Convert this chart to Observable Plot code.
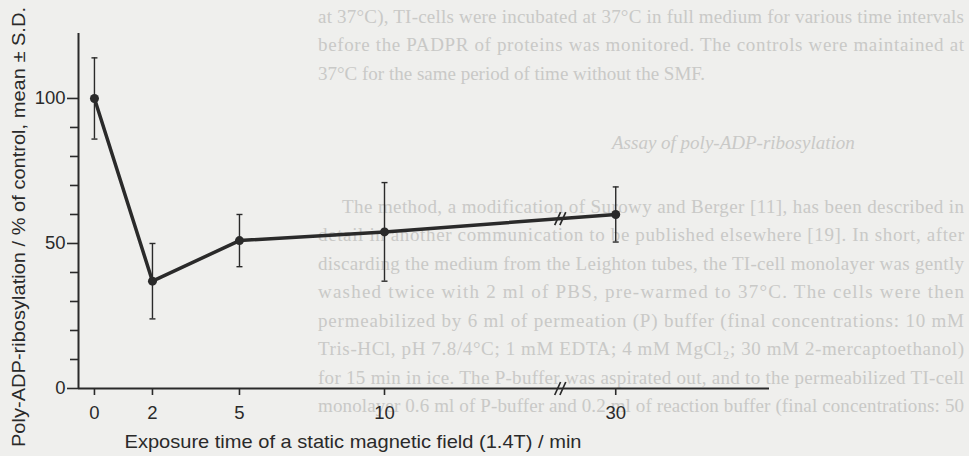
<!DOCTYPE html>
<html><head><meta charset="utf-8">
<script src="https://cdn.jsdelivr.net/npm/d3@7"></script>
<script src="https://cdn.jsdelivr.net/npm/@observablehq/plot@0.6"></script>
<style>
html,body{margin:0;padding:0;background:#efefed;overflow:hidden}
#wrap{position:relative;width:969px;height:456px;overflow:hidden}
#bg,#chart{position:absolute;left:0;top:0}
</style></head><body>
<div id="wrap"><svg id="bg" width="969" height="456"></svg><div id="chart"></div></div>
<script>
// ---- chart data ----
const times = [0, 2, 5, 10, 30];
const means = [100, 37, 51, 54, 60];
const sds = [14, 13, 9, 17, 9.5];
const xTicks = [0, 2, 5, 10, 30];
const yTicks = [0, 50, 100];
const yMinorTicks = [10, 20, 30, 40, 60, 70, 80, 90];
const breakAt = 25.2;
const xTitle = "Exposure time of a static magnetic field (1.4T) / min";
const yTitle = "Poly-ADP-ribosylation / % of control, mean ± S.D.";

// ---- show-through page text (scan background) ----
const pageLines = [
  "at 37°C), TI-cells were incubated at 37°C in full medium for various time intervals",
  "before the PADPR of proteins was monitored. The controls were maintained at",
  "37°C for the same period of time without the SMF.",
  "Assay of poly-ADP-ribosylation",
  "The method, a modification of Surowy and Berger [11], has been described in",
  "detail in another communication to be published elsewhere [19]. In short, after",
  "discarding the medium from the Leighton tubes, the TI-cell monolayer was gently",
  "washed twice with 2 ml of PBS, pre-warmed to 37°C. The cells were then",
  "permeabilized by 6 ml of permeation (P) buffer (final concentrations: 10 mM",
  "Tris-HCl, pH 7.8/4°C; 1 mM EDTA; 4 mM MgCl₂; 30 mM 2-mercaptoethanol)",
  "for 15 min in ice. The P-buffer was aspirated out, and to the permeabilized TI-cell",
  "monolayer 0.6 ml of P-buffer and 0.2 ml of reaction buffer (final concentrations: 50"
];
const pageLayout = {
  baselines: [23, 51, 80, 149, 213, 241, 270, 298, 327, 355, 384, 412],
  starts:    [318, 318, 318, 612, 342, 318, 318, 318, 318, 318, 318, 318],
  justified: [true, true, false, false, true, true, true, true, true, true, true, true],
  italic:    [false, false, false, true, false, false, false, false, false, false, false, false],
  right: 964
};

const bg = d3.select("#bg");
pageLines.forEach((s, i) => {
  const t = bg.append("text")
    .attr("x", pageLayout.starts[i]).attr("y", pageLayout.baselines[i])
    .attr("font-family", "Liberation Serif, DejaVu Serif, serif")
    .attr("font-size", 19)
    .attr("font-style", pageLayout.italic[i] ? "italic" : "normal")
    .attr("fill", "#c9c9c7")
    .text(s);
  const avail = pageLayout.right - pageLayout.starts[i];
  const nat = t.node().getComputedTextLength();
  if (nat > avail) t.attr("font-size", 19 * avail / nat);
  if (pageLayout.justified[i]) t.attr("textLength", avail).attr("lengthAdjust", "spacing");
});

// ---- plot ----
const ink = "#2a2a2a";
const data = times.map((t, i) => ({t, m: means[i], s: sds[i]}));
const xDomain = [-0.55, 10, 43.3];
const xRange = [78, 384, 769];
const yTop = 122.4;
const capSymbol = {draw(ctx, size) { const r = Math.sqrt(size / Math.PI); ctx.moveTo(-r, 0); ctx.lineTo(r, 0); }};
const breakSymbol = {draw(ctx, size) {
  const r = Math.sqrt(size / Math.PI);
  for (const o of [-0.4 * r, 0.4 * r]) { ctx.moveTo(o - 0.45 * r, r); ctx.lineTo(o + 0.45 * r, -r); }
}};
const i10 = times.indexOf(10), i30 = times.indexOf(30);
const breakY = means[i10] + (means[i30] - means[i10]) * (breakAt - times[i10]) / (times[i30] - times[i10]);
const breaks = [{x: breakAt, y: 0}, {x: breakAt, y: breakY}];

const chart = Plot.plot({
  width: 969, height: 456,
  marginLeft: 78, marginRight: 200, marginTop: 33, marginBottom: 68,
  style: {background: "transparent", fontFamily: "Liberation Sans, Arial, sans-serif", color: ink},
  x: {type: "linear", domain: xDomain, range: xRange},
  y: {domain: [0, yTop]},
  marks: [
    Plot.ruleY([0], {stroke: ink, strokeWidth: 2}),
    Plot.ruleX([xDomain[0]], {stroke: ink, strokeWidth: 2}),
    Plot.axisY({ticks: yTicks, tickSize: 11, tickPadding: 2, fontSize: 18.5, label: null, color: ink, strokeWidth: 1.6}),
    Plot.axisY({ticks: yMinorTicks, tickSize: 8, tickFormat: () => "", label: null, color: ink, strokeWidth: 1.6}),
    Plot.axisX({ticks: xTicks, tickSize: 7, tickPadding: 10, fontSize: 18.5, label: null, color: ink, strokeWidth: 1.6}),
    Plot.ruleX(data, {x: "t", y1: d => d.m - d.s, y2: d => d.m + d.s, stroke: ink, strokeWidth: 1.4}),
    Plot.dot(data, {x: "t", y: d => d.m + d.s, symbol: capSymbol, r: 3, stroke: ink, fill: "none", strokeWidth: 1.4}),
    Plot.dot(data, {x: "t", y: d => d.m - d.s, symbol: capSymbol, r: 3, stroke: ink, fill: "none", strokeWidth: 1.4}),
    Plot.line(data, {x: "t", y: "m", stroke: ink, strokeWidth: 3.5}),
    Plot.dot(data, {x: "t", y: "m", r: 4.5, fill: ink, stroke: null}),
    Plot.dot(breaks, {x: "x", y: "y", symbol: breakSymbol, r: 6.5, stroke: ink, fill: "none", strokeWidth: 1.7}),
    Plot.text([xTitle], {text: d => d, frameAnchor: "bottom-left", dx: 46, dy: 59, textAnchor: "start", lineAnchor: "bottom", fontSize: 19, fill: ink}),
    Plot.text([yTitle], {text: d => d, frameAnchor: "left", rotate: -90, dx: -60, dy: 16, textAnchor: "middle", lineAnchor: "middle", fontSize: 19, fill: ink})
  ]
});
d3.select(chart).selectAll("text").each(function() {
  const s = this.textContent;
  if (s === xTitle) d3.select(this).attr("textLength", 457).attr("lengthAdjust", "spacingAndGlyphs");
  if (s === yTitle) d3.select(this).attr("textLength", 440).attr("lengthAdjust", "spacingAndGlyphs");
});
document.getElementById("chart").appendChild(chart);
</script>
</body></html>
